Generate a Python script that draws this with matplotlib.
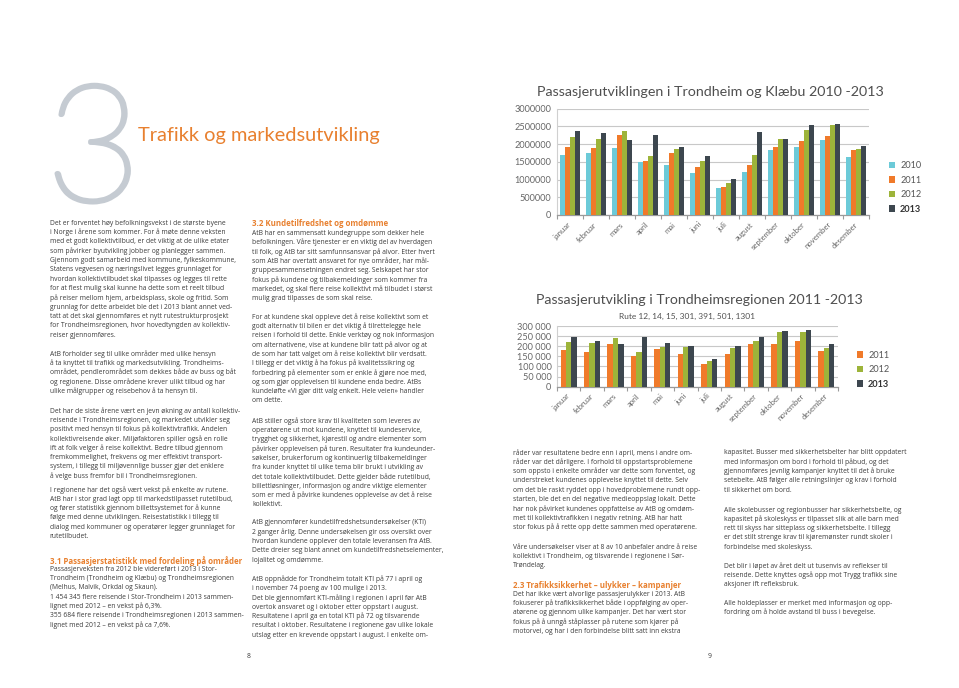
import matplotlib
matplotlib.use('Agg')
import matplotlib.pyplot as plt
import matplotlib.patheffects as pe
import numpy as np
from matplotlib import font_manager as fm

W, H, DPI = 959, 688, 100

# ---------------- data ----------------
months = ['januar', 'februar', 'mars', 'april', 'mai', 'juni', 'juli',
          'august', 'september', 'oktober', 'november', 'desember']

years_tk = ['2010', '2011', '2012', '2013']
tk_2010 = [1700000, 1740000, 1895000, 1505000, 1420000, 1180000, 760000, 1215000, 1830000, 1920000, 2120000, 1620000]
tk_2011 = [1920000, 1885000, 2260000, 1530000, 1745000, 1340000, 800000, 1420000, 1905000, 2095000, 2235000, 1830000]
tk_2012 = [2200000, 2150000, 2370000, 1665000, 1865000, 1535000, 915000, 1700000, 2145000, 2405000, 2525000, 1855000]
tk_2013 = [2355000, 2300000, 2120000, 2240000, 1925000, 1665000, 1015000, 2340000, 2145000, 2525000, 2565000, 1945000]
tk_ticks = [0, 500000, 1000000, 1500000, 2000000, 2500000, 3000000]
tk_ticklabels = ['0', '500000', '1000000', '1500000', '2000000', '2500000', '3000000']

years_tr = ['2011', '2012', '2013']
tr_2011 = [181000, 171000, 209000, 152000, 185000, 160000, 112000, 160000, 209000, 211000, 227000, 176000]
tr_2012 = [221000, 214000, 239000, 171000, 196000, 195000, 129000, 190000, 224000, 269000, 272000, 193000]
tr_2013 = [244000, 224000, 211000, 244000, 214000, 201000, 138000, 201000, 247000, 275000, 280000, 211000]
tr_ticks = [0, 50000, 100000, 150000, 200000, 250000, 300000]
tr_ticklabels = ['0', '50 000', '100 000', '150 000', '200 000', '250 000', '300 000']

title_tk = 'Passasjerutviklingen i Trondheim og Klæbu 2010 -2013'
title_tr = 'Passasjerutvikling i Trondheimsregionen 2011 -2013'
subtitle_tr = 'Rute 12, 14, 15, 301, 391, 501, 1301'
page_title = 'Trafikk og markedsutvikling'
chapter_no = '3'

col1 = [
    (223.3, None, [
        "Det er forventet høy befolkningsvekst i de største byene",
        "i Norge i årene som kommer. For å møte denne veksten",
        "med et godt kollektivtilbud, er det viktig at de ulike etater",
        "som påvirker byutvikling jobber og planlegger sammen.",
        "Gjennom godt samarbeid med kommune, fylkeskommune,",
        "Statens vegvesen og næringslivet legges grunnlaget for",
        "hvordan kollektivtilbudet skal tilpasses og legges til rette",
        "for at flest mulig skal kunne ha dette som et reelt tilbud",
        "på reiser mellom hjem, arbeidsplass, skole og fritid. Som",
        "grunnlag for dette arbeidet ble det i 2013 blant annet ved-",
        "tatt at det skal gjennomføres et nytt rutestrukturprosjekt",
        "for Trondheimsregionen, hvor hovedtyngden av kollektiv-",
        "reiser gjennomføres."]),
    (353.7, None, [
        "AtB forholder seg til ulike områder med ulike hensyn",
        "å ta knyttet til trafikk og markedsutvikling. Trondheims-",
        "området, pendlerområdet som dekkes både av buss og båt",
        "og regionene. Disse områdene krever ulikt tilbud og har",
        "ulike målgrupper og reisebehov å ta hensyn til."]),
    (410.7, None, [
        "Det har de siste årene vært en jevn økning av antall kollektiv-",
        "reisende i Trondheimsregionen, og markedet utvikler seg",
        "positivt med hensyn til fokus på kollektivtrafikk. Andelen",
        "kollektivreisende øker. Miljøfaktoren spiller også en rolle",
        "ift at folk velger å reise kollektivt. Bedre tilbud gjennom",
        "fremkommelighet, frekvens og mer effektivt transport-",
        "system, i tillegg til miljøvennlige busser gjør det enklere",
        "å velge buss fremfor bil i Trondheimsregionen."]),
    (490.0, None, [
        "I regionene har det også vært vekst på enkelte av rutene.",
        "AtB har i stor grad lagt opp til markedstilpasset rutetilbud,",
        "og fører statistikk gjennom billettsystemet for å kunne",
        "følge med denne utviklingen. Reisestatistikk i tillegg til",
        "dialog med kommuner og operatører legger grunnlaget for",
        "rutetilbudet."]),
    (560.7, 'h', ["3.1 Passasjerstatistikk med fordeling på områder"]),
    (569.3, None, [
        "Passasjerveksten fra 2012 ble videreført i 2013 i Stor-",
        "Trondheim (Trondheim og Klæbu) og Trondheimsregionen",
        "(Melhus, Malvik, Orkdal og Skaun).",
        "1 454 345 flere reisende i Stor-Trondheim i 2013 sammen-",
        "lignet med 2012 – en vekst på 6,3%.",
        "355 684 flere reisende i Trondheimsregionen i 2013 sammen-",
        "lignet med 2012 – en vekst på ca 7,6%."]),
]

col2 = [
    (224.0, 'h', ["3.2 Kundetilfredshet og omdømme"]),
    (233.3, None, [
        "AtB har en sammensatt kundegruppe som dekker hele",
        "befolkningen. Våre tjenester er en viktig del av hverdagen",
        "til folk, og AtB tar sitt samfunnsansvar på alvor. Etter hvert",
        "som AtB har overtatt ansvaret for nye områder, har mål-",
        "gruppesammensetningen endret seg. Selskapet har stor",
        "fokus på kundene og tilbakemeldinger som kommer fra",
        "markedet, og skal flere reise kollektivt må tilbudet i størst",
        "mulig grad tilpasses de som skal reise."]),
    (316.7, None, [
        "For at kundene skal oppleve det å reise kollektivt som et",
        "godt alternativ til bilen er det viktig å tilrettelegge hele",
        "reisen i forhold til dette. Enkle verktøy og nok informasjon",
        "om alternativene, vise at kundene blir tatt på alvor og at",
        "de som har tatt valget om å reise kollektivt blir verdsatt.",
        "I tillegg er det viktig å ha fokus på kvalitetssikring og",
        "forbedring på elementer som er enkle å gjøre noe med,",
        "og som gjør opplevelsen til kundene enda bedre. AtBs",
        "kundeløfte «Vi gjør ditt valg enkelt. Hele veien» handler",
        "om dette."]),
    (420.7, None, [
        "AtB stiller også store krav til kvaliteten som leveres av",
        "operatørene ut mot kundene, knyttet til kundeservice,",
        "trygghet og sikkerhet, kjørestil og andre elementer som",
        "påvirker opplevelsen på turen. Resultater fra kundeunder-",
        "søkelser, brukerforum og kontinuerlig tilbakemeldinger",
        "fra kunder knyttet til ulike tema blir brukt i utvikling av",
        "det totale kollektivtilbudet. Dette gjelder både rutetilbud,",
        "billettløsninger, informasjon og andre viktige elementer",
        "som er med å påvirke kundenes opplevelse av det å reise",
        "kollektivt."]),
    (522.7, None, [
        "AtB gjennomfører kundetilfredshetsundersøkelser (KTI)",
        "2 ganger årlig. Denne undersøkelsen gir oss oversikt over",
        "hvordan kundene opplever den totale leveransen fra AtB.",
        "Dette dreier seg blant annet om kundetilfredshetselementer,",
        "lojalitet og omdømme."]),
    (579.3, None, [
        "AtB oppnådde for Trondheim totalt KTI på 77 i april og",
        "i november 74 poeng av 100 mulige i 2013.",
        "Det ble gjennomført KTI-måling i regionen i april før AtB",
        "overtok ansvaret og i oktober etter oppstart i august.",
        "Resultatene i april ga en total KTI på 72 og tilsvarende",
        "resultat i oktober. Resultatene i regionene gav ulike lokale",
        "utslag etter en krevende oppstart i august. I enkelte om-"]),
]

col3 = [
    (453.0, None, [
        "råder var resultatene bedre enn i april, mens i andre om-",
        "råder var det dårligere. I forhold til oppstartsproblemene",
        "som oppsto i enkelte områder var dette som forventet, og",
        "understreket kundenes opplevelse knyttet til dette. Selv",
        "om det ble raskt ryddet opp i hovedproblemene rundt opp-",
        "starten, ble det en del negative medieoppslag lokalt. Dette",
        "har nok påvirket kundenes oppfattelse av AtB og omdøm-",
        "met til kollektivtrafikken i negativ retning. AtB har hatt",
        "stor fokus på å rette opp dette sammen med operatørene."]),
    (547.3, None, [
        "Våre undersøkelser viser at 8 av 10 anbefaler andre å reise",
        "kollektivt i Trondheim, og tilsvarende i regionene i Sør-",
        "Trøndelag."]),
    (585.0, 'h', ["2.3 Trafikksikkerhet – ulykker – kampanjer"]),
    (594.3, None, [
        "Det har ikke vært alvorlige passasjerulykker i 2013. AtB",
        "fokuserer på trafikksikkerhet både i oppfølging av oper-",
        "atørene og gjennom ulike kampanjer. Det har vært stor",
        "fokus på å unngå ståplasser på rutene som kjører på",
        "motorvei, og har i den forbindelse blitt satt inn ekstra"]),
]

col4 = [
    (453.0, None, [
        "kapasitet. Busser med sikkerhetsbelter har blitt oppdatert",
        "med informasjon om bord i forhold til påbud, og det",
        "gjennomføres jevnlig kampanjer knyttet til det å bruke",
        "setebelte. AtB følger alle retningslinjer og krav i forhold",
        "til sikkerhet om bord."]),
    (510.0, None, [
        "Alle skolebusser og regionbusser har sikkerhetsbelte, og",
        "kapasitet på skoleskyss er tilpasset slik at alle barn med",
        "rett til skyss har sitteplass og sikkerhetsbelte. I tillegg",
        "er det stilt strenge krav til kjøremønster rundt skoler i",
        "forbindelse med skoleskyss."]),
    (566.0, None, [
        "Det blir i løpet av året delt ut tusenvis av reflekser til",
        "reisende. Dette knyttes også opp mot Trygg trafikk sine",
        "aksjoner ift refleksbruk."]),
    (603.3, None, [
        "Alle holdeplasser er merket med informasjon og opp-",
        "fordring om å holde avstand til buss i bevegelse."]),
]

# ---------------- styling ----------------
C2010, C2011, C2012, C2013 = '#6ccad8', '#f07a2a', '#9db43a', '#3d474f'
ORANGE = '#e8802f'
BODY_C = '#3c3c3c'
AX_C = '#666666'
BIG_C = '#c5cbd2'


def pick(cands):
    for c in cands:
        try:
            fm.findfont(fm.FontProperties(family=c), fallback_to_default=False)
            return c
        except Exception:
            pass
    return 'DejaVu Sans'


BODY_F = pick(['Liberation Sans Narrow', 'Open Sans', 'Lato', 'Noto Sans'])
CHART_F = pick(['Lato', 'Open Sans', 'Noto Sans'])

fig = plt.figure(figsize=(W / DPI, H / DPI), dpi=DPI)
fig.patch.set_facecolor('white')
page = fig.add_axes([0, 0, 1, 1], zorder=0)
page.set_xlim(0, W)
page.set_ylim(H, 0)
page.axis('off')
renderer = fig.canvas.get_renderer()


def fit_size(s, target, family, weight='normal', ref=10.0):
    t = page.text(0, 0, s, fontsize=ref, family=family, fontweight=weight)
    w = t.get_window_extent(renderer).width
    t.remove()
    return ref * target / w


body_fs = fit_size("Det har de siste årene vært en jevn økning av antall kollektiv-", 190, BODY_F)
head_fs = fit_size("3.1 Passasjerstatistikk med fordeling på områder", 191, BODY_F, 'bold')
STEP = 9.33


def draw_col(x, blocks):
    for y0, kind, lines in blocks:
        for i, s in enumerate(lines):
            if kind == 'h':
                page.text(x, y0 + i * STEP, s, fontsize=head_fs, family=BODY_F,
                          fontweight='bold', color=ORANGE, va='center', ha='left')
            else:
                page.text(x, y0 + i * STEP, s, fontsize=body_fs, family=BODY_F,
                          color=BODY_C, va='center', ha='left')


draw_col(49.5, col1)
draw_col(252, col2)
draw_col(513, col3)
draw_col(724, col4)

# page numbers
page.text(249, 657, '8', fontsize=body_fs, family=BODY_F, color=BODY_C, ha='center', va='center')
page.text(710, 657, '9', fontsize=body_fs, family=BODY_F, color=BODY_C, ha='center', va='center')

# big chapter number and title
page.text(46, 201, chapter_no, fontsize=118, family=CHART_F, fontweight='light',
          color=BIG_C, ha='left', va='baseline',
          path_effects=[pe.withStroke(linewidth=3.2, foreground=BIG_C)])
pt_fs = fit_size(page_title, 242, CHART_F)
page.text(138, 136, page_title, fontsize=pt_fs, family=CHART_F, color=ORANGE,
          ha='left', va='center')

# chart titles
t1_fs = fit_size(title_tk, 346, CHART_F)
page.text(537, 91.5, title_tk, fontsize=t1_fs, family=CHART_F, color='#4f4f4f',
          ha='left', va='center')
t2_fs = fit_size(title_tr, 327, CHART_F)
page.text(536, 300.5, title_tr, fontsize=t2_fs, family=CHART_F, color='#4f4f4f',
          ha='left', va='center')
st_fs = fit_size(subtitle_tr, 137, CHART_F)
page.text(619, 316.7, subtitle_tr, fontsize=st_fs, family=CHART_F, color='#4f4f4f',
          ha='left', va='center')

tick_fs = fit_size('3000000', 37, CHART_F)
month_fs = tick_fs * 0.85


def setup_axes(rect_px, ticks, ticklabels, ymax):
    l, r, t, b = rect_px
    ax = fig.add_axes([l / W, 1 - b / H, (r - l) / W, (b - t) / H], zorder=2)
    ax.set_facecolor('none')
    ax.set_xlim(-0.5, 11.5)
    ax.set_ylim(0, ymax)
    ax.set_yticks(ticks)
    ax.set_yticklabels(ticklabels, fontsize=tick_fs, family=CHART_F, color=AX_C)
    ax.tick_params(axis='y', length=0, pad=4)
    ax.yaxis.grid(True, color='#c8c8c8', linewidth=0.8)
    ax.set_axisbelow(True)
    for s in ['top', 'right']:
        ax.spines[s].set_visible(False)
    ax.spines['left'].set_color('#d0d0d0')
    ax.spines['left'].set_linewidth(0.8)
    ax.spines['bottom'].set_color('#9a9a9a')
    ax.spines['bottom'].set_linewidth(0.9)
    ax.set_xticks(np.arange(12))
    ax.set_xticklabels(months, rotation=45, ha='right', va='center',
                       rotation_mode='anchor', fontsize=month_fs, family=CHART_F, color=AX_C)
    ax.tick_params(axis='x', which='major', length=0, pad=6)
    ax.set_xticks(np.arange(-0.5, 12, 1), minor=True)
    ax.tick_params(axis='x', which='minor', length=3, color='#9a9a9a', width=0.8)
    return ax


# chart 1
ax1 = setup_axes((557, 869, 108.5, 215), tk_ticks, tk_ticklabels, 3000000)
x = np.arange(12)
bw = 0.2
for k, (vals, c) in enumerate(zip([tk_2010, tk_2011, tk_2012, tk_2013],
                                   [C2010, C2011, C2012, C2013])):
    ax1.bar(x + (k - 1.5) * bw, vals, width=bw, color=c, label=years_tk[k], zorder=3)
leg1 = ax1.legend(loc='upper left', bbox_to_anchor=(884, 156.5), bbox_transform=page.transData,
                  frameon=False, borderpad=0, handlelength=0.75, handleheight=0.75,
                  handletextpad=0.5, labelspacing=0.6,
                  prop={'family': CHART_F, 'size': tick_fs})
for t in leg1.get_texts():
    t.set_color('#555555')
leg1.get_texts()[-1].set_fontweight('bold')
leg1.get_texts()[-1].set_color('#333333')

# chart 2
ax2 = setup_axes((557, 838, 326, 386.7), tr_ticks, tr_ticklabels, 300000)
bw2 = 0.23
for k, (vals, c) in enumerate(zip([tr_2011, tr_2012, tr_2013], [C2011, C2012, C2013])):
    ax2.bar(x + (k - 1) * bw2, vals, width=bw2, color=c, label=years_tr[k], zorder=3)
leg2 = ax2.legend(loc='upper left', bbox_to_anchor=(852, 346), bbox_transform=page.transData,
                  frameon=False, borderpad=0, handlelength=0.75, handleheight=0.75,
                  handletextpad=0.5, labelspacing=0.6,
                  prop={'family': CHART_F, 'size': tick_fs})
for t in leg2.get_texts():
    t.set_color('#555555')
leg2.get_texts()[-1].set_fontweight('bold')
leg2.get_texts()[-1].set_color('#333333')

fig.savefig('out.png', dpi=DPI, facecolor='white')
